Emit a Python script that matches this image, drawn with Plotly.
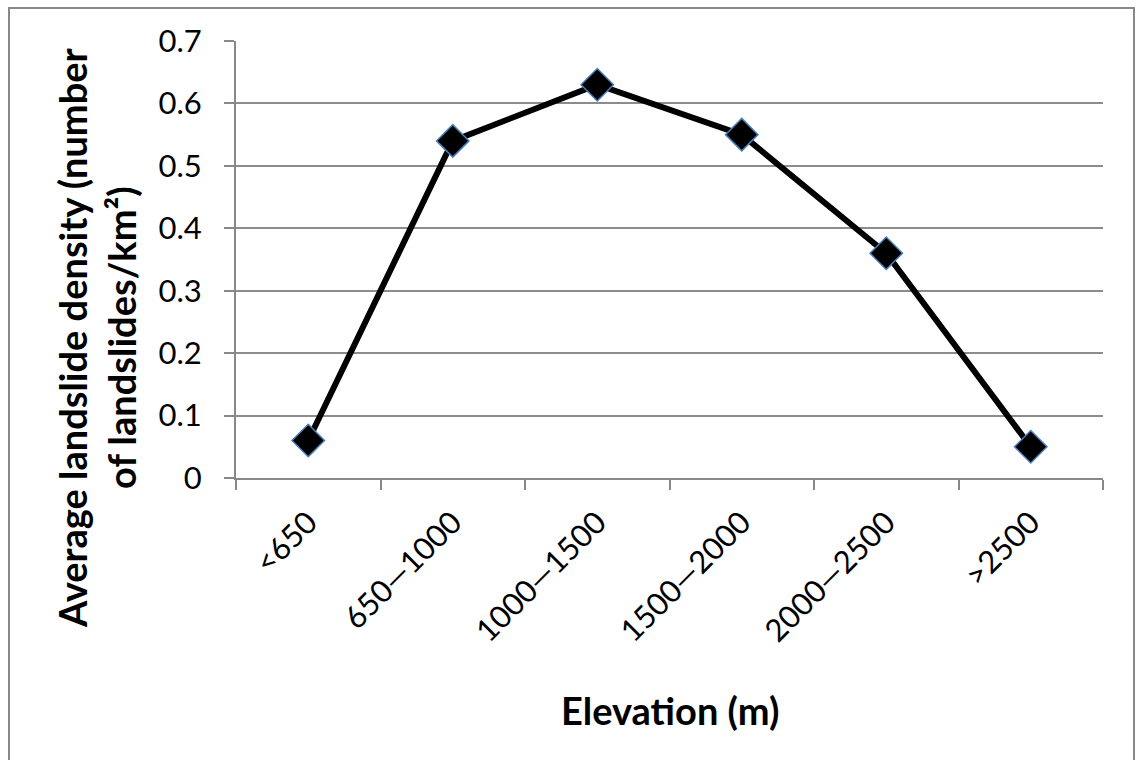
import plotly.graph_objects as go

categories = ["<650", "650\u20141000", "1000\u20141500", "1500\u20142000", "2000\u20142500", ">2500"]
density = [0.06, 0.54, 0.63, 0.55, 0.36, 0.05]
y_ticks = [0, 0.1, 0.2, 0.3, 0.4, 0.5, 0.6, 0.7]
y_tick_labels = ["0", "0.1", "0.2", "0.3", "0.4", "0.5", "0.6", "0.7"]

FONT = "Lato, Open Sans, sans-serif"

fig = go.Figure()
fig.add_trace(go.Scatter(
    x=categories, y=density, mode="lines+markers",
    line=dict(color="black", width=6),
    marker=dict(symbol="diamond", size=25, color="black",
                line=dict(color="#4a7ebb", width=1.5)),
    showlegend=False,
))

L, R, T, B = 236, 33, 41, 282
W, H = 1136, 760
pw, ph = W - L - R, H - T - B

fig.update_layout(
    width=W, height=H,
    margin=dict(l=L, r=R, t=T, b=B),
    paper_bgcolor="white", plot_bgcolor="white",
    font=dict(family=FONT, color="black", size=30),
    xaxis=dict(
        type="category", range=[-0.5, 5.5],
        tickson="boundaries", ticks="outside", ticklen=10, tickcolor="#888888", tickwidth=2,
        showline=True, linecolor="#888888", linewidth=2,
        showgrid=False, tickangle=-45, tickfont=dict(size=31, family=FONT),
        ticklabelstandoff=12,
    ),
    yaxis=dict(
        range=[0, 0.7], tickvals=y_ticks, ticktext=y_tick_labels,
        ticks="outside", ticklen=10, tickcolor="#888888", tickwidth=2,
        showline=True, linecolor="#888888", linewidth=2,
        showgrid=True, gridcolor="#8c8c8c", gridwidth=2,
        zeroline=False, tickfont=dict(size=31, family=FONT),
        ticklabelstandoff=16,
    ),
)

fig.add_annotation(
    text="<b>Average landslide density (number<br>of landslides/km\u00b2)</b>",
    xref="paper", yref="paper", x=(97 - L) / pw, y=(H - B - 338) / ph,
    xanchor="center", yanchor="middle", textangle=-90, showarrow=False,
    font=dict(size=38, family=FONT), align="center",
)
fig.add_annotation(
    text="<b>Elevation (m)</b>",
    xref="paper", yref="paper", x=0.5, y=(H - B - 710) / ph,
    xanchor="center", yanchor="middle", showarrow=False,
    font=dict(size=38, family=FONT),
)
fig.add_shape(
    type="rect", xref="paper", yref="paper",
    x0=(9 - L) / pw, x1=(1134 - L) / pw, y0=(H - B - 765) / ph, y1=(H - B - 8) / ph,
    line=dict(color="#888888", width=2), layer="below",
)

fig.write_html("out.html", config={"displayModeBar": False},
               post_script="document.body.style.margin='0';document.body.style.overflow='hidden';")
